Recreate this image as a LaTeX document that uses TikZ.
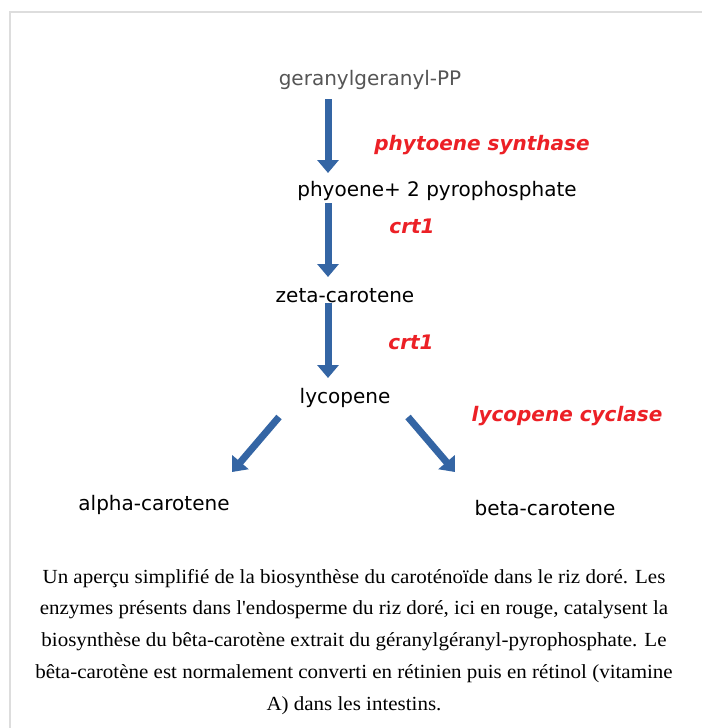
\documentclass[tikz,border=0pt]{standalone}
\usepackage{fontspec}
\setmainfont{Liberation Serif}
\newfontfamily\capfont[FakeStretch=1.05]{Liberation Serif}
\newfontfamily\diag{DejaVu Sans}
\usetikzlibrary{arrows.meta}
\definecolor{arrblue}{RGB}{52,101,164}
\definecolor{enzred}{RGB}{236,32,38}
\definecolor{framegray}{RGB}{221,221,221}
\definecolor{topgray}{RGB}{85,85,85}
\begin{document}
\begin{tikzpicture}[x=1pt,y=-1pt,
  mol/.style={font=\diag\fontsize{20}{24}\selectfont, text=black, inner sep=0pt, anchor=base},
  enz/.style={font=\diag\bfseries\itshape\fontsize{20}{24}\selectfont, text=enzred, inner sep=0pt, anchor=base},
  arr/.style={draw=arrblue, line width=7pt, -{Triangle[width=21pt,length=13pt]}}]
\useasboundingbox (0,0) rectangle (702,728);
\fill[white] (0,0) rectangle (702,728);
\draw[framegray, line width=2pt] (9.5,728) -- (9.5,11.5) -- (702,11.5);

\node[mol, text=topgray] (ger) at (370,85) {geranylgeranyl-PP};
\node[enz] (ps) at (482,150) {phytoene synthase};
\node[mol] (phy) at (437,196) {phyoene+ 2 pyrophosphate};
\node[enz] (crt1a) at (412,233) {crt1};
\node[mol] (zeta) at (345,302) {zeta-carotene};
\node[enz] (crt1b) at (411,349) {crt1};
\node[mol] (lyc) at (345,403) {lycopene};
\node[enz] (cyc) at (567,421) {lycopene cyclase};
\node[mol] (alpha) at (154,510) {alpha-carotene};
\node[mol] (beta) at (545,515) {beta-carotene};

\coordinate (a1s) at (328,99);  \coordinate (a1e) at (328,173);
\coordinate (a2s) at (328,203); \coordinate (a2e) at (328,277);
\coordinate (a3s) at (328,303); \coordinate (a3e) at (328,378);
\coordinate (a4s) at (279,417); \coordinate (a4e) at (232,472);
\coordinate (a5s) at (408,417); \coordinate (a5e) at (455,472);
\draw[arr] (a1s) -- (a1e);
\draw[arr] (a2s) -- (a2e);
\draw[arr] (a3s) -- (a3e);
\draw[arr] (a4s) -- (a4e);
\draw[arr] (a5s) -- (a5e);

\node[font=\capfont\fontsize{20}{31.7}\selectfont, align=center, inner sep=0pt, anchor=base] (cap) at (354,710)
{Un aperçu simplifié de la biosynthèse du caroténoïde dans le riz doré. Les\\
enzymes présents dans l{\char39}endosperme du riz doré, ici en rouge, catalysent la\\
biosynthèse du bêta-carotène extrait du géranylgéranyl-pyrophosphate. Le\\
bêta-carotène est normalement converti en rétinien puis en rétinol (vitamine\\
A) dans les intestins.};
\end{tikzpicture}
\end{document}
